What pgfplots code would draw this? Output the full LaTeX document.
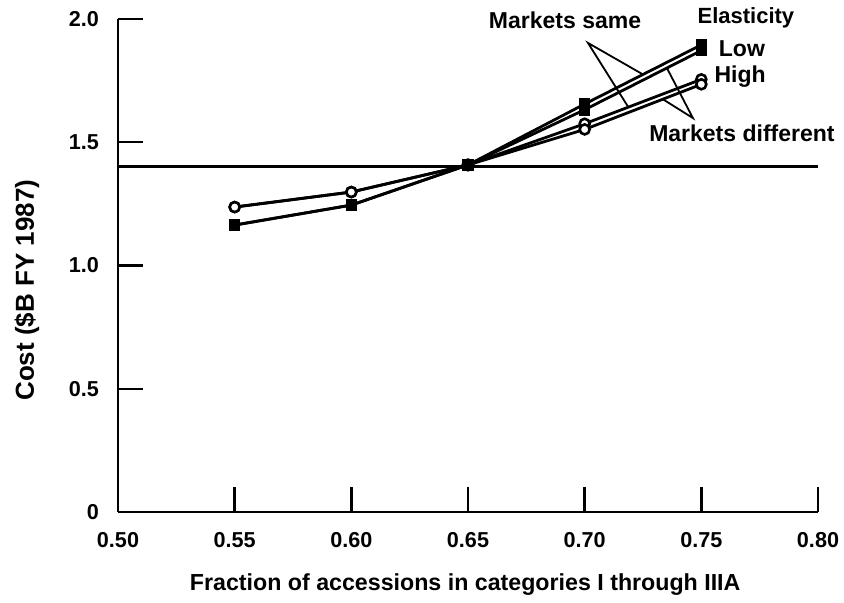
\documentclass[border=0pt]{standalone}
\usepackage{fontspec}
\setmainfont{Liberation Sans}
\usepackage{pgfplots}
\pgfplotsset{compat=1.18}
\begin{document}
\begin{tikzpicture}
\useasboundingbox (-59pt,-45.5pt) rectangle (363pt,256pt);
\begin{axis}[
  scale only axis, width=350pt, height=246.5pt,
  axis x line=bottom, axis y line=left,
  axis line style={-, line width=1.4pt, black},
  xmin=0.5, xmax=0.8, ymin=0, ymax=2,
  xtick={0.5,0.55,0.6,0.65,0.7,0.75,0.8},
  xticklabels={0.50,0.55,0.60,0.65,0.70,0.75,0.80},
  ytick={0,0.5,1,1.5,2},
  yticklabels={0,0.5,1.0,1.5,2.0},
  tick align=inside, major tick length=12.5pt,
  every tick/.style={black, line width=1.2pt},
  ticklabel style={font=\bfseries\fontsize{10.8}{12}\selectfont},
  xticklabel style={yshift=-6.5pt},
  yticklabel style={xshift=-6pt},
  xlabel={Fraction of accessions in categories I through IIIA},
  ylabel={Cost (\$B FY 1987)},
  xlabel style={at={(axis description cs:0.496,-0.148)}, anchor=center, font=\bfseries\fontsize{11.6}{13}\selectfont},
  ylabel style={at={(axis description cs:-0.13,0.45)}, anchor=center, font=\bfseries\fontsize{13}{15}\selectfont},
  clip=false,
]
\addplot[black, line width=1.4pt] coordinates {(0.5,1.40) (0.8,1.40)};
% Low elasticity, markets same / different
\addplot[black, line width=1.4pt, mark=square*, mark size=2.2pt] coordinates {(0.55,1.164) (0.60,1.245) (0.65,1.408) (0.70,1.655) (0.75,1.895)};
\addplot[black, line width=1.4pt, mark=square*, mark size=2.2pt] coordinates {(0.55,1.164) (0.60,1.245) (0.65,1.408) (0.70,1.632) (0.75,1.872)};
% High elasticity, markets same / different
\addplot[black, line width=1.4pt, mark=*, mark size=2.5pt, mark options={fill=white, line width=1.3pt}] coordinates {(0.55,1.237) (0.60,1.298) (0.65,1.408) (0.70,1.575) (0.75,1.755)};
\addplot[black, line width=1.4pt, mark=*, mark size=2.5pt, mark options={fill=white, line width=1.3pt}] coordinates {(0.55,1.237) (0.60,1.298) (0.65,1.408) (0.70,1.552) (0.75,1.735)};
\addplot[black, only marks, mark=*, mark size=3pt] coordinates {(0.65,1.408)};
% annotations
\node[font=\bfseries\fontsize{11.5}{13}\selectfont] at (axis cs:0.6916,1.996) {Markets same};
\node[font=\bfseries\fontsize{11}{13}\selectfont] at (axis cs:0.7691,2.004) {Elasticity};
\node[font=\bfseries\fontsize{11.5}{13}\selectfont] at (axis cs:0.7674,1.878) {Low};
\node[font=\bfseries\fontsize{11.5}{13}\selectfont] at (axis cs:0.7666,1.765) {High};
\node[font=\bfseries\fontsize{11.5}{13}\selectfont] at (axis cs:0.7674,1.538) {Markets different};
\draw[black, line width=0.9pt] (axis cs:0.7250,1.775) -- (axis cs:0.7014,1.903) -- (axis cs:0.7186,1.644);
\draw[black, line width=0.9pt] (axis cs:0.7353,1.800) -- (axis cs:0.7464,1.598) -- (axis cs:0.7336,1.674);
\end{axis}
\end{tikzpicture}
\end{document}
